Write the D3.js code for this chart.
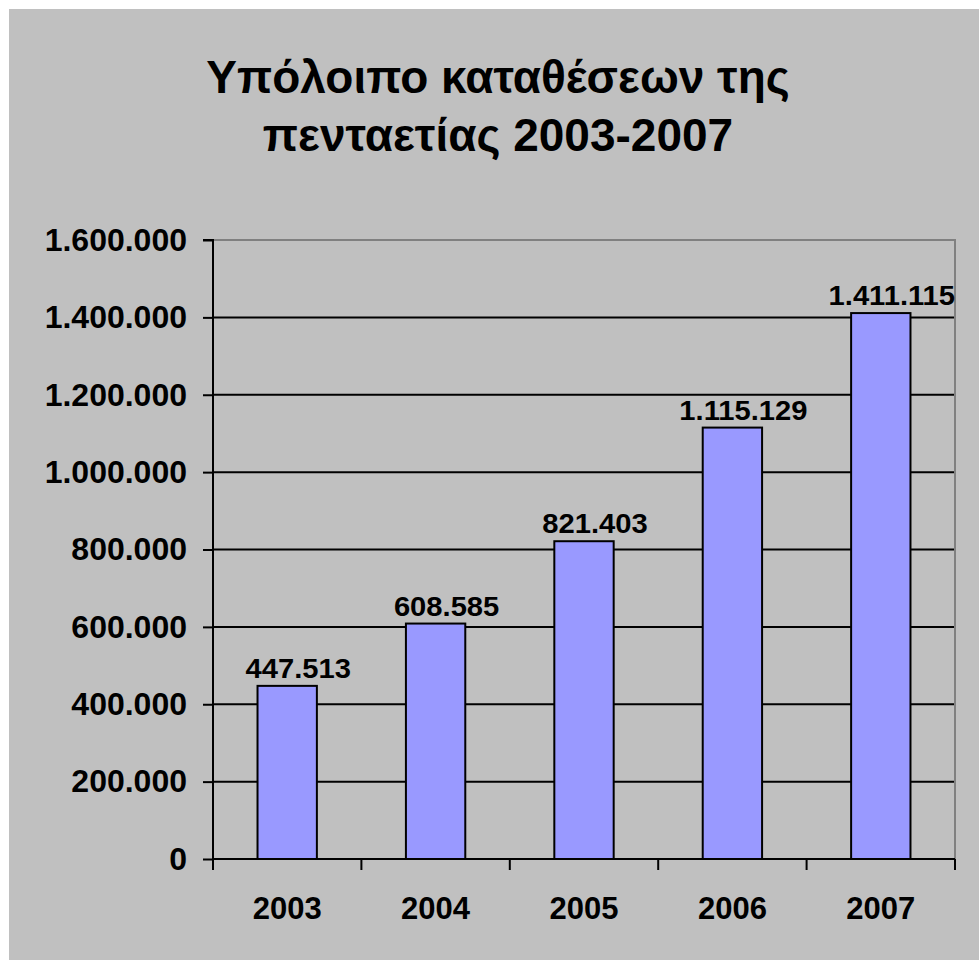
<!DOCTYPE html>
<html>
<head>
<meta charset="utf-8">
<script src="https://cdn.jsdelivr.net/npm/d3@7"></script>
<style>
  html, body { margin: 0; padding: 0; background: #ffffff; }
  svg { display: block; }
  text { font-family: "Liberation Sans", Arial, sans-serif; font-weight: bold; fill: #000; }
</style>
</head>
<body>
<svg id="chart" width="979" height="960"></svg>
<script>
// Deposit balances, five-year period 2003-2007
const years = ["2003", "2004", "2005", "2006", "2007"];
const balances = [447513, 608585, 821403, 1115129, 1411115];
const yTicks = [0, 200000, 400000, 600000, 800000, 1000000, 1200000, 1400000, 1600000];
const titleLines = ["Υπόλοιπο καταθέσεων της", "πενταετίας 2003-2007"];

// Greek-style thousands separator: 1.411.115
const fmt = v => d3.format(",")(v).replace(/,/g, ".");

const svg = d3.select("#chart");
const W = 979, H = 960;

// chart area background
svg.append("rect")
  .attr("x", 9).attr("y", 9)
  .attr("width", W - 9).attr("height", H - 9)
  .attr("fill", "#c0c0c0");

const plot = { left: 213, right: 955, top: 240, bottom: 859 };

const x = d3.scaleBand()
  .domain(years)
  .range([plot.left, plot.right])
  .paddingInner(0.6)
  .paddingOuter(0.3);

const y = d3.scaleLinear()
  .domain([0, 1600000])
  .range([plot.bottom, plot.top]);

// title
svg.append("g").selectAll("text")
  .data(titleLines)
  .join("text")
  .attr("x", 498)
  .attr("y", (d, i) => 93 + i * 58)
  .attr("text-anchor", "middle")
  .attr("font-size", 46)
  .text(d => d);

// horizontal gridlines
svg.append("g").selectAll("line")
  .data(yTicks.filter(t => t > 0 && t < 1600000))
  .join("line")
  .attr("x1", plot.left).attr("x2", plot.right)
  .attr("y1", d => y(d)).attr("y2", d => y(d))
  .attr("stroke", "#000").attr("stroke-width", 2);

// plot area border (top and right)
svg.append("path")
  .attr("d", `M${plot.left},${y(1600000)}H${plot.right}V${plot.bottom}`)
  .attr("fill", "none")
  .attr("stroke", "#808080")
  .attr("stroke-width", 2);

// bars
svg.append("g").selectAll("rect")
  .data(balances)
  .join("rect")
  .attr("x", (d, i) => x(years[i]))
  .attr("y", d => y(d))
  .attr("width", x.bandwidth())
  .attr("height", d => y(0) - y(d))
  .attr("fill", "#9999ff")
  .attr("stroke", "#000")
  .attr("stroke-width", 2);

// value labels
svg.append("g").selectAll("text")
  .data(balances)
  .join("text")
  .attr("text-anchor", "middle")
  .attr("font-size", 27)
  .attr("transform", (d, i) => `translate(${x(years[i]) + x.bandwidth() / 2 + 11},${y(d) - 8}) scale(1.08,1)`)
  .text(d => fmt(d));

// y axis
const yAxis = d3.axisLeft(y)
  .tickValues(yTicks)
  .tickSize(10)
  .tickPadding(16)
  .tickFormat(fmt);

const gy = svg.append("g")
  .attr("transform", `translate(${plot.left},0)`)
  .call(yAxis);
gy.select(".domain").attr("stroke", "#000").attr("stroke-width", 2)
  .attr("d", `M-10,${plot.top}H0V${plot.bottom}`);
gy.selectAll(".tick line").attr("stroke", "#000").attr("stroke-width", 2);
gy.selectAll(".tick text")
  .attr("font-size", 32)
  .attr("font-family", "Liberation Sans, Arial, sans-serif")
  .attr("font-weight", "bold")
  .attr("fill", "#000");

// x axis with ticks at category boundaries
const gx = svg.append("g")
  .attr("transform", `translate(0,${plot.bottom})`);
gx.append("line")
  .attr("x1", plot.left).attr("x2", plot.right)
  .attr("stroke", "#000").attr("stroke-width", 2);
const step = x.step();
const bounds = d3.range(years.length + 1).map(i => plot.left + i * step);
gx.selectAll("line.tick")
  .data(bounds)
  .join("line")
  .attr("class", "tick")
  .attr("x1", d => d).attr("x2", d => d)
  .attr("y1", 0).attr("y2", 11)
  .attr("stroke", "#000").attr("stroke-width", 2);
gx.selectAll("text")
  .data(years)
  .join("text")
  .attr("x", d => x(d) + x.bandwidth() / 2)
  .attr("y", 60)
  .attr("text-anchor", "middle")
  .attr("font-size", 31)
  .text(d => d);
</script>
</body>
</html>
